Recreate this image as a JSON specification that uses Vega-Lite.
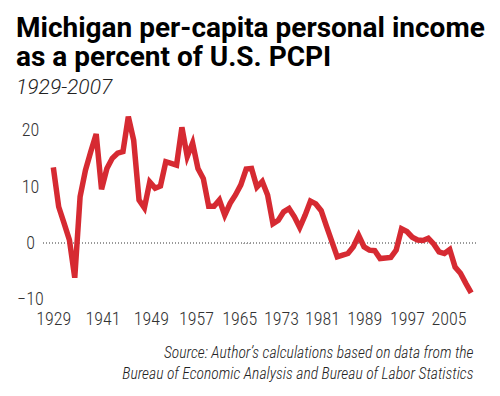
{
  "$schema": "https://vega.github.io/schema/vega-lite/v6.json",
  "width": 435,
  "height": 191.5,
  "autosize": {"type": "none"},
  "padding": {"left": 41, "top": 111, "right": 24, "bottom": 93.5},
  "background": "white",
  "config": {"view": {"stroke": null}},
  "title": {
    "text": ["Michigan per-capita personal income", "as a percent of U.S. PCPI"],
    "subtitle": "1929-2007",
    "anchor": "start",
    "frame": "group",
    "dx": -25,
    "offset": 8,
    "font": "Roboto",
    "fontSize": 28,
    "fontWeight": "bold",
    "lineHeight": 29,
    "color": "#000000",
    "subtitleFont": "Roboto",
    "subtitleFontStyle": "italic",
    "subtitleFontWeight": 300,
    "subtitleFontSize": 21,
    "subtitleColor": "#222222",
    "subtitlePadding": 5
  },
  "data": {"values": [
    {"year": 1929, "pct": 13.5}, {"year": 1930, "pct": 6.5}, {"year": 1931, "pct": 3.6}, {"year": 1932, "pct": 0.6},
    {"year": 1933, "pct": -6.1}, {"year": 1934, "pct": 8.3}, {"year": 1935, "pct": 13.0}, {"year": 1936, "pct": 16.3},
    {"year": 1937, "pct": 19.4}, {"year": 1938, "pct": 9.6}, {"year": 1939, "pct": 13.3}, {"year": 1940, "pct": 15.1},
    {"year": 1941, "pct": 16.0}, {"year": 1942, "pct": 16.3}, {"year": 1943, "pct": 22.5}, {"year": 1944, "pct": 18.3},
    {"year": 1945, "pct": 7.7}, {"year": 1946, "pct": 6.3}, {"year": 1947, "pct": 10.9}, {"year": 1948, "pct": 9.8},
    {"year": 1949, "pct": 10.2}, {"year": 1950, "pct": 14.5}, {"year": 1951, "pct": 14.2}, {"year": 1952, "pct": 13.9},
    {"year": 1953, "pct": 20.6}, {"year": 1954, "pct": 15.4}, {"year": 1955, "pct": 17.8}, {"year": 1956, "pct": 13.3},
    {"year": 1957, "pct": 11.5}, {"year": 1958, "pct": 6.6}, {"year": 1959, "pct": 6.6}, {"year": 1960, "pct": 7.7},
    {"year": 1961, "pct": 5.0}, {"year": 1962, "pct": 7.1}, {"year": 1963, "pct": 8.6}, {"year": 1964, "pct": 10.4},
    {"year": 1965, "pct": 13.2}, {"year": 1966, "pct": 13.3}, {"year": 1967, "pct": 10.0}, {"year": 1968, "pct": 11.0},
    {"year": 1969, "pct": 8.6}, {"year": 1970, "pct": 3.5}, {"year": 1971, "pct": 4.1}, {"year": 1972, "pct": 5.6},
    {"year": 1973, "pct": 6.2}, {"year": 1974, "pct": 4.7}, {"year": 1975, "pct": 2.8}, {"year": 1976, "pct": 5.0},
    {"year": 1977, "pct": 7.5}, {"year": 1978, "pct": 7.0}, {"year": 1979, "pct": 5.8}, {"year": 1980, "pct": 3.0},
    {"year": 1981, "pct": 0.3}, {"year": 1982, "pct": -2.4}, {"year": 1983, "pct": -2.1}, {"year": 1984, "pct": -1.8},
    {"year": 1985, "pct": -0.6}, {"year": 1986, "pct": 1.4}, {"year": 1987, "pct": -0.6}, {"year": 1988, "pct": -1.2},
    {"year": 1989, "pct": -1.3}, {"year": 1990, "pct": -2.7}, {"year": 1991, "pct": -2.6}, {"year": 1992, "pct": -2.5},
    {"year": 1993, "pct": -1.2}, {"year": 1994, "pct": 2.6}, {"year": 1995, "pct": 2.1}, {"year": 1996, "pct": 1.1},
    {"year": 1997, "pct": 0.6}, {"year": 1998, "pct": 0.5}, {"year": 1999, "pct": 0.9}, {"year": 2000, "pct": -0.1},
    {"year": 2001, "pct": -1.5}, {"year": 2002, "pct": -1.8}, {"year": 2003, "pct": -1.1}, {"year": 2004, "pct": -4.2},
    {"year": 2005, "pct": -5.3}, {"year": 2006, "pct": -7.1}, {"year": 2007, "pct": -8.8}
  ]},
  "encoding": {
    "x": {
      "field": "year",
      "type": "quantitative",
      "scale": {"domain": [1926.7, 2007.9], "nice": false, "zero": false},
      "axis": {
        "values": [1929, 1941, 1949, 1957, 1965, 1973, 1981, 1989, 1997, 2005],
        "format": "d",
        "grid": false,
        "domain": false,
        "ticks": false,
        "tickSize": 0,
        "labelPadding": 8,
        "labelFont": "'Roboto Condensed', 'Liberation Sans Narrow', 'DejaVu Sans Condensed', Roboto, sans-serif",
        "labelFontSize": 18,
        "labelFontWeight": 300,
        "labelColor": "#333333",
        "labelOverlap": false,
        "labelFlush": false,
        "labelOffset": {
          "condition": [
            {"test": "datum.value == 1929", "value": 0},
            {"test": "datum.value == 1941", "value": -15},
            {"test": "datum.value == 1949", "value": -9.6},
            {"test": "datum.value == 1957", "value": -7.4},
            {"test": "datum.value == 1965", "value": -7},
            {"test": "datum.value == 1973", "value": -8},
            {"test": "datum.value == 1981", "value": -10},
            {"test": "datum.value == 1989", "value": -10.6},
            {"test": "datum.value == 1997", "value": -10.7}
          ],
          "value": -12
        },
        "title": ["Source: Author’s calculations based on data from the", "Bureau of Economic Analysis and Bureau of Labor Statistics"],
        "titleFont": "'Roboto Condensed', 'Liberation Sans Narrow', 'DejaVu Sans Condensed', Roboto, sans-serif",
        "titleFontStyle": "italic",
        "titleFontWeight": 300,
        "titleFontSize": 15.6,
        "titleColor": "#222222",
        "titleAlign": "right",
        "titleAnchor": "end",
        "titleBaseline": "alphabetic",
        "titleLineHeight": 21,
        "titleX": 432,
        "titleY": 54.5
      }
    },
    "y": {
      "field": "pct",
      "type": "quantitative",
      "scale": {"domain": [-10.5, 23.5], "nice": false, "zero": false},
      "axis": {
        "values": [-10, 0, 10, 20],
        "title": null,
        "grid": false,
        "domain": false,
        "ticks": false,
        "tickSize": 0,
        "labelAlign": "center",
        "labelPadding": 11,
        "labelFont": "'Roboto Condensed', 'Liberation Sans Narrow', 'DejaVu Sans Condensed', Roboto, sans-serif",
        "labelFontSize": 18,
        "labelFontWeight": 300,
        "labelColor": "#333333"
      }
    }
  },
  "layer": [
    {
      "mark": {"type": "rule", "color": "#999999", "strokeWidth": 1, "strokeDash": [1, 2]},
      "encoding": {"y": {"datum": 0}, "x": {}}
    },
    {
      "mark": {"type": "line", "color": "#d62a32", "strokeWidth": 5.5, "strokeJoin": "miter"}
    }
  ]
}
